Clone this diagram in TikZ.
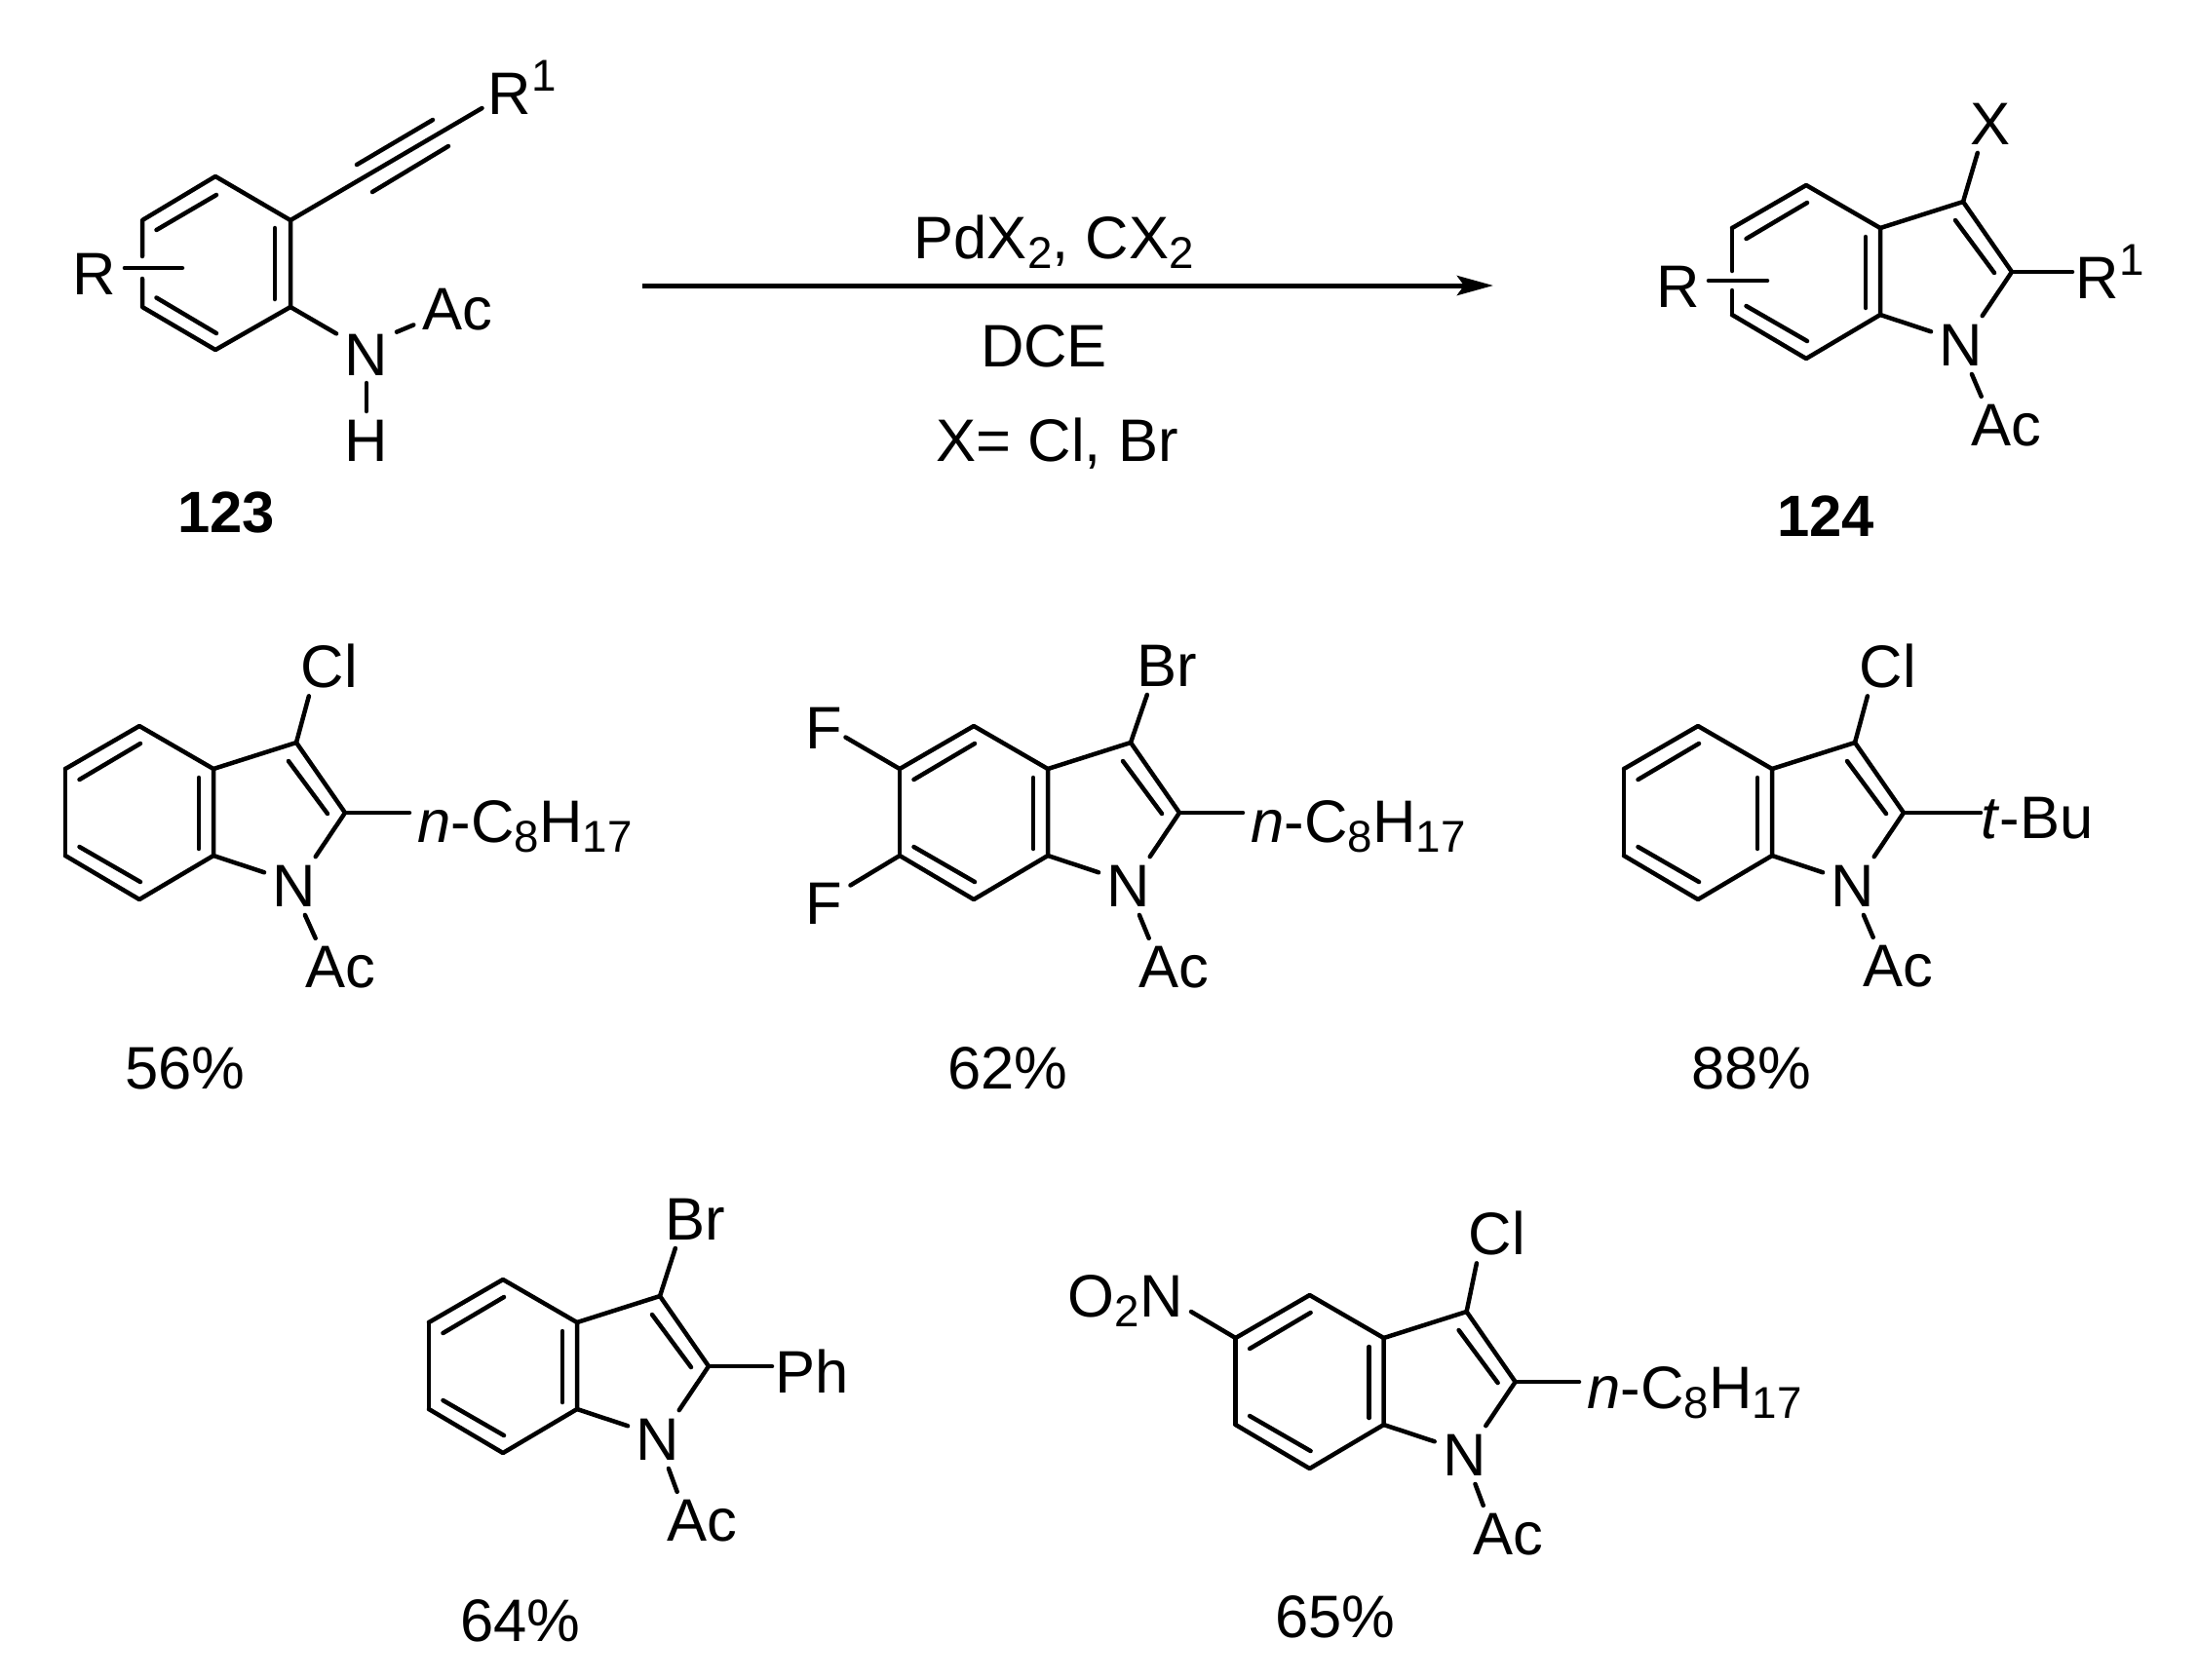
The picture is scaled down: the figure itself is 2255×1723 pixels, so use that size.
\documentclass[tikz,border=0pt]{standalone}
\usepackage{fontspec}
\setmainfont{Liberation Sans}
\usetikzlibrary{arrows.meta}

\newcommand{\lowsub}[1]{\raisebox{-0.1cm}{\fontsize{13pt}{15pt}\selectfont #1}}
\newcommand{\upsup}[1]{\raisebox{0.24cm}{\fontsize{13pt}{15pt}\selectfont #1}}
\newcommand{\octyl}{\textit{n}-C\lowsub{8}H\lowsub{17}}

\tikzset{
    bond/.style={line width=0.045cm, line cap=round, line join=round},
    atom/.style={inner sep=0.08cm, font=\fontsize{17.5pt}{20pt}\selectfont},
    sidegroup/.style={atom, anchor=base west},
    compound/.style={atom, font=\fontsize{17pt}{20pt}\selectfont\bfseries},
    indole/.pic={
        \coordinate (-UL) at (0,0);
        \coordinate (-T) at (76,-44);
        \coordinate (-UR) at (152,0);
        \coordinate (-LR) at (152,89);
        \coordinate (-B) at (76,134);
        \coordinate (-LL) at (0,89);
        \coordinate (-C3) at (237,-27);
        \coordinate (-C2) at (287,45);
        \node[atom] (-N) at (235,120) {N};
        % Skeleton
        \draw[bond] (-UL) -- (-T) -- (-UR) -- (-LR) -- (-B) -- (-LL);
        \draw[bond] (-UR) -- (-C3) -- (-C2) -- (-N.54);
        \draw[bond] (-LR) -- (-N.156);
        % Inner double bond lines
        \draw[bond] (14.5,11) -- (77,-26);
        \draw[bond] (14.5,80) -- (77,116);
        \draw[bond] (137,9) -- (137,82);
        \draw[bond] (229,-8) -- (269,46);
    }
}

\begin{document}
\begin{tikzpicture}[x=0.01cm, y=-0.01cm]
    \path[use as bounding box, fill=white] (0,0) rectangle (2255,1723);

    % Starting material 123
    \coordinate (ul) at (146,226);
    \coordinate (tp) at (221,181);
    \coordinate (ur) at (298,226);
    \coordinate (lr) at (298,315);
    \coordinate (bt) at (221,359);
    \coordinate (ll) at (146,315);
    \coordinate (rb) at (187,275);
    \coordinate (yne) at (494.5,111);
    \draw[bond] (ul) ++(0,37) -- (ul) -- (tp) -- (ur) -- (lr) -- (bt) -- (ll) -- ++(0,-29);
    \draw[bond] (160.5,236) -- (222,200);
    \draw[bond] (160.5,305.5) -- (222,342);
    \draw[bond] (282,234) -- (282,307);
    \draw[bond] (ur) -- (yne);
    \draw[bond] (366,169) -- (444,123);
    \draw[bond] (382,197) -- (460,150);
    \node[atom] (sr) at (97,281) {R};
    \draw[bond] (sr.east |- rb) -- (rb);
    \node[sidegroup] (sr1) at (492,117) {R\upsup{1}};
    \node[atom] (sn) at (376,364) {N};
    \node[atom] (sh) at (376,452) {H};
    \node[atom] (sac) at (469,318) {Ac};
    \draw[bond] (lr) -- (sn.145);
    \draw[bond] (sn.37) -- (sac.199);
    \draw[bond] (sn) ++(0,29) -- ++(0,29);
    \node[compound] (sm) at (232,526) {123};

    % Reaction arrow
    \coordinate (as) at (659,293);
    \coordinate (ae) at (1532,293);
    \draw[line width=0.05cm, -{Stealth[length=0.37cm, width=0.2cm, inset=0.07cm]}] (as) -- (ae);
    \node[sidegroup] (cat) at (929,265) {PdX\lowsub{2}, CX\lowsub{2}};
    \node[atom, anchor=base] (sol) at (1071,376) {DCE};
    \node[sidegroup] (hal) at (952,473) {X= Cl, Br};

    % Product 124
    \pic (pr) at (1777,234) {indole};
    \draw[bond] (pr-UL) -- ++(0,44);
    \draw[bond] (pr-LL) -- ++(0,-25);
    \coordinate (prb) at (1813,288);
    \node[atom] (pr-R) at (1722,294) {R};
    \draw[bond] (pr-R.east |- prb) -- (prb);
    \node[atom] (pr-X) at (2041.5,127) {X};
    \draw[bond] (pr-C3) -- (pr-X.247);
    \node[sidegroup, inner sep=0.03cm] (pr-R1) at (2126,306) {R\upsup{1}};
    \draw[bond] (pr-C2) -- (pr-C2 -| pr-R1.west);
    \node[atom] (pr-Ac) at (2058,437) {Ac};
    \draw[bond] (pr-N.-70) -- (pr-Ac.130);
    \node[compound] (pn) at (1873,530) {124};

    % Row of examples
    \pic (a) at (67,789) {indole};
    \draw[bond] (a-UL) -- (a-LL);
    \node[atom] (a-X) at (338,683) {Cl};
    \draw[bond] (a-C3) -- (a-X.236);
    \node[sidegroup] (a-R) at (420,864) {\octyl};
    \draw[bond] (a-C2) -- (a-C2 -| a-R.west);
    \node[atom] (a-Ac) at (349,993) {Ac};
    \draw[bond] (a-N.-70) -- (a-Ac.130);
    \node[atom] (a-y) at (190,1096) {56\%};

    \pic (b) at (923,789) {indole};
    \draw[bond] (b-UL) -- (b-LL);
    \node[atom] (b-X) at (1197,683) {Br};
    \draw[bond] (b-C3) -- (b-X.236);
    \node[sidegroup] (b-R) at (1275,864) {\octyl};
    \draw[bond] (b-C2) -- (b-C2 -| b-R.west);
    \node[atom] (b-Ac) at (1204,993) {Ac};
    \draw[bond] (b-N.-70) -- (b-Ac.130);
    \node[atom, inner sep=0.03cm] (b-F1) at (845,747) {F};
    \node[atom] (b-F2) at (845,927) {F};
    \draw[bond] (b-UL) -- (b-F1.-23);
    \draw[bond] (b-LL) -- (b-F2.34);
    \node[atom] (b-y) at (1034,1096) {62\%};

    \pic (c) at (1666,789) {indole};
    \draw[bond] (c-UL) -- (c-LL);
    \node[atom] (c-X) at (1937,683) {Cl};
    \draw[bond] (c-C3) -- (c-X.236);
    \node[sidegroup, inner sep=0pt] (c-R) at (2032,860) {\textit{t}-Bu};
    \draw[bond] (c-C2) -- (c-C2 -| c-R.west);
    \node[atom] (c-Ac) at (1947,992) {Ac};
    \draw[bond] (c-N.-70) -- (c-Ac.130);
    \node[atom] (c-y) at (1797,1096) {88\%};

    % Bottom row
    \pic (d) at (440,1357) {indole};
    \draw[bond] (d-UL) -- (d-LL);
    \node[atom] (d-X) at (713,1251) {Br};
    \draw[bond] (d-C3) -- (d-X.236);
    \node[sidegroup, inner sep=0.03cm] (d-R) at (792,1429) {Ph};
    \draw[bond] (d-C2) -- (d-C2 -| d-R.west);
    \node[atom] (d-Ac) at (720,1561) {Ac};
    \draw[bond] (d-N.-70) -- (d-Ac.130);
    \node[atom] (d-y) at (534,1663) {64\%};

    \pic (e) at (1267.6,1373) {indole};
    \draw[bond] (e-UL) -- (e-LL);
    \node[atom] (e-X) at (1536,1265) {Cl};
    \draw[bond] (e-C3) -- (e-X.236);
    \node[sidegroup] (e-R) at (1620,1445) {\octyl};
    \draw[bond] (e-C2) -- (e-C2 -| e-R.west);
    \node[atom] (e-Ac) at (1547,1575) {Ac};
    \draw[bond] (e-N.-70) -- (e-Ac.130);
    \coordinate (nb) at (1222,1346);
    \node[sidegroup] (e-no) at (1087,1351) {O\lowsub{2}N};
    \draw[bond] (nb) -- (e-UL);
    \node[atom] (e-y) at (1370,1659) {65\%};
\end{tikzpicture}
\end{document}
